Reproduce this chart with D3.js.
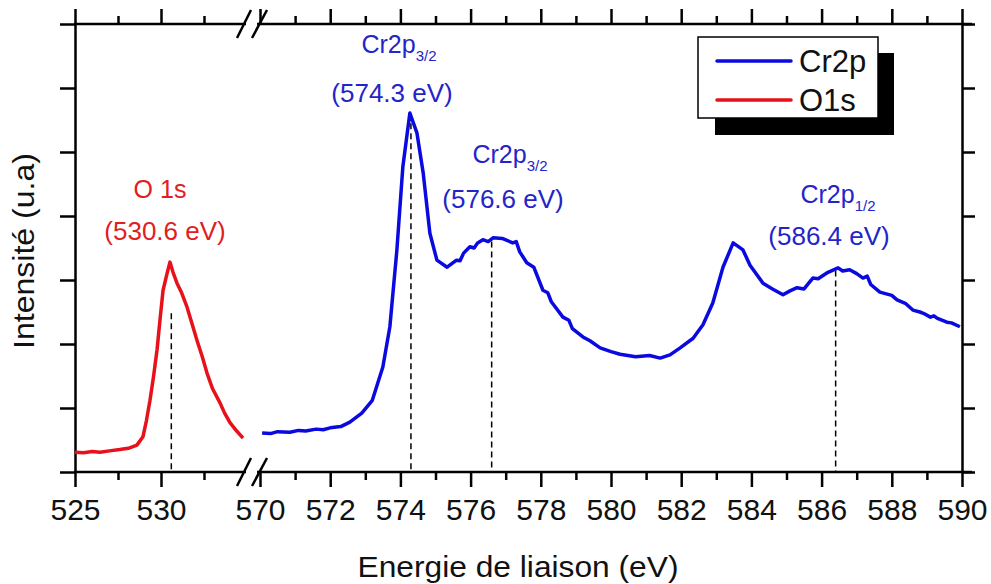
<!DOCTYPE html>
<html><head><meta charset="utf-8">
<script src="https://cdn.jsdelivr.net/npm/d3@7"></script>
<style>body{margin:0;background:#fff}svg{display:block;font-family:"Liberation Sans",Arial,sans-serif}</style>
</head><body><svg id="c" width="991" height="584"></svg>
<script>
// ---- data ----
const o1sEnergy = [525.0,525.5,526.0,526.45,527.0,527.6,528.1,528.6,528.95,529.15,529.36,529.57,529.77,529.95,530.12,530.35,530.52,530.7,530.93,531.2,531.51,531.8,532.09,532.4,532.67,533.0,533.43,533.7,534.01,534.4,534.77];
const o1sValue  = [0.31,0.30,0.32,0.31,0.33,0.35,0.37,0.42,0.55,0.80,1.12,1.50,1.91,2.40,2.84,3.10,3.28,3.12,2.95,2.80,2.58,2.32,2.06,1.80,1.55,1.30,1.08,0.92,0.77,0.64,0.53];
const cr2pEnergy = [570.06,570.3,570.5,570.85,571.1,571.3,571.6,571.8,572.0,572.3,572.56,572.9,573.2,573.5,573.7,573.9,574.07,574.27,574.47,574.65,574.84,575.04,575.33,575.6,575.7,575.8,575.98,576.1,576.2,576.35,576.5,576.64,576.9,577.2,577.3,577.4,577.6,577.8,578.06,578.2,578.3,578.63,578.8,578.9,579.2,579.4,579.69,580.0,580.26,580.7,581.1,581.4,581.68,581.97,582.34,582.62,582.9,583.19,583.48,583.76,583.96,584.33,584.6,584.9,585.1,585.3,585.5,585.75,585.9,586.15,586.47,586.6,586.8,587.0,587.18,587.3,587.4,587.66,588.0,588.15,588.4,588.6,588.8,588.9,589.1,589.2,589.3,589.57,589.7,589.94];
const cr2pValue  = [0.61,0.60,0.63,0.62,0.65,0.64,0.67,0.66,0.69,0.71,0.78,0.92,1.12,1.64,2.27,3.47,4.77,5.61,5.30,4.67,3.73,3.31,3.20,3.31,3.30,3.42,3.52,3.50,3.58,3.63,3.60,3.66,3.65,3.58,3.60,3.44,3.27,3.20,2.84,2.80,2.66,2.42,2.37,2.24,2.11,2.05,1.94,1.88,1.84,1.80,1.82,1.78,1.83,1.94,2.09,2.30,2.64,3.20,3.58,3.47,3.23,2.95,2.86,2.77,2.83,2.88,2.86,3.03,3.02,3.11,3.19,3.14,3.16,3.10,3.03,3.06,2.93,2.81,2.76,2.69,2.63,2.53,2.50,2.48,2.42,2.44,2.40,2.34,2.33,2.27];
const leftMajor = [525,530];
const leftMinor = [527.5,532.5];
const rightMajor = [570,572,574,576,578,580,582,584,586,588,590];
const rightMinor = [571,573,575,577,579,581,583,585,587,589];
const yTicks = [0,1,2,3,4,5,6,7];
const peaks = [
  {seg:"L", e:530.6, top:2.48, color:"#e0201f", name:"O 1s", sub:"", val:"(530.6 eV)"},
  {seg:"R", e:574.3, top:5.45, color:"#2424c8", name:"Cr2p", sub:"3/2", val:"(574.3 eV)"},
  {seg:"R", e:576.6, top:3.6,  color:"#2424c8", name:"Cr2p", sub:"3/2", val:"(576.6 eV)"},
  {seg:"R", e:586.4, top:3.15, color:"#2424c8", name:"Cr2p", sub:"1/2", val:"(586.4 eV)"}
];
const legendItems = [{name:"Cr2p", color:"#0a0ae0"},{name:"O1s", color:"#e8101a"}];

// ---- layout ----
const svg = d3.select("#c");
const xL = d3.scaleLinear().domain([525,535]).range([75,247]);
const xR = d3.scaleLinear().domain([570,590]).range([260,962]);
const y = d3.scaleLinear().domain([0,7]).range([472,24]);
const yTop = y(7), yBot = y(0);
const fmt = d3.format("d");

function axisSet(g, scale, major, minor, bottom){
  const mk = bottom ? d3.axisBottom : d3.axisTop;
  const a1 = mk(scale).tickValues(major).tickSize(15).tickSizeOuter(0).tickFormat(bottom?fmt:"");
  const a2 = mk(scale).tickValues(minor).tickSize(8).tickSizeOuter(0).tickFormat("");
  g.append("g").call(a1).call(s=>{s.select(".domain").remove();s.selectAll("line").attr("stroke","#000").attr("stroke-width",2.5);
     s.selectAll("text").attr("fill","#111").attr("font-size",30).attr("font-family","Liberation Sans, Arial, sans-serif").attr("y",27).attr("dy","0.71em");});
  g.append("g").call(a2).call(s=>{s.select(".domain").remove();s.selectAll("line").attr("stroke","#000").attr("stroke-width",2.5);});
}
const gb = svg.append("g").attr("transform",`translate(0,${yBot})`);
axisSet(gb, xL, leftMajor, leftMinor, true);
axisSet(gb, xR, rightMajor, rightMinor, true);
const gt = svg.append("g").attr("transform",`translate(0,${yTop})`);
axisSet(gt, xL, leftMajor, leftMinor, false);
axisSet(gt, xR, rightMajor, rightMinor, false);

[yTop,yBot].forEach(yy=>{
  svg.append("line").attr("x1",xL.range()[0]-1).attr("x2",246).attr("y1",yy).attr("y2",yy).attr("stroke","#000").attr("stroke-width",2.5);
  svg.append("line").attr("x1",257).attr("x2",xR.range()[1]+10).attr("y1",yy).attr("y2",yy).attr("stroke","#000").attr("stroke-width",2.5);
  [[237,251],[252,267]].forEach(([a,b])=>{
    svg.append("line").attr("x1",a).attr("y1",yy+14).attr("x2",b).attr("y2",yy-14).attr("stroke","#000").attr("stroke-width",2.5);
  });
});

const gl = svg.append("g").attr("transform",`translate(${xL.range()[0]},0)`)
  .call(d3.axisLeft(y).tickValues(yTicks).tickSize(15).tickSizeOuter(0).tickFormat(""));
gl.select(".domain").attr("stroke","#000").attr("stroke-width",2.5);
gl.selectAll("line").attr("stroke","#000").attr("stroke-width",2.5);
const gr = svg.append("g").attr("transform",`translate(${xR.range()[1]},0)`)
  .call(d3.axisRight(y).tickValues(yTicks).tickSize(13).tickSizeOuter(0).tickFormat(""));
gr.select(".domain").attr("stroke","#000").attr("stroke-width",2.5);
gr.selectAll("line").attr("stroke","#000").attr("stroke-width",2.5);

peaks.forEach(p=>{
  const sx = p.seg==="L"?xL:xR;
  svg.append("line").attr("x1",sx(p.e)).attr("x2",sx(p.e)).attr("y1",y(p.top)).attr("y2",yBot)
    .attr("stroke","#000").attr("stroke-width",1.5).attr("stroke-dasharray","6,4");
});

const lineL = d3.line().x((d,i)=>xL(o1sEnergy[i])).y(d=>y(d));
const lineR = d3.line().x((d,i)=>xR(cr2pEnergy[i])).y(d=>y(d));
svg.append("path").attr("d",lineL(o1sValue)).attr("fill","none").attr("stroke","#e8101a").attr("stroke-width",3.5).attr("stroke-linejoin","round");
svg.append("path").attr("d",lineR(cr2pValue)).attr("fill","none").attr("stroke","#0a0ae0").attr("stroke-width",3.5).attr("stroke-linejoin","round");

const annPos = [
  {cx:160, y1:198, cx2:165, y2:240},
  {cx:399, y1:53,  cx2:392, y2:102},
  {cx:510, y1:163, cx2:503, y2:208},
  {cx:838, y1:203, cx2:829, y2:245}
];
peaks.forEach((p,i)=>{
  const a = annPos[i];
  const t = svg.append("text").attr("x",a.cx).attr("y",a.y1).attr("text-anchor","middle").attr("fill",p.color).attr("font-size",25).text(p.name);
  if(p.sub){ t.append("tspan").attr("font-size",15).attr("dy",8).text(p.sub); }
  svg.append("text").attr("x",a.cx2).attr("y",a.y2).attr("text-anchor","middle").attr("fill",p.color).attr("font-size",26).text(p.val);
});

svg.append("rect").attr("x",715).attr("y",53).attr("width",179).attr("height",82).attr("fill","#000");
svg.append("rect").attr("x",698).attr("y",37).attr("width",180).attr("height",81).attr("fill","#fff").attr("stroke","#000").attr("stroke-width",1.5);
legendItems.forEach((d,i)=>{
  const yy = 61 + i*39;
  svg.append("line").attr("x1",717).attr("x2",791).attr("y1",yy).attr("y2",yy).attr("stroke",d.color).attr("stroke-width",3.5).attr("stroke-linecap","round");
  svg.append("text").attr("x",799).attr("y",yy+11).attr("font-size",31).attr("fill","#111").text(d.name);
});

svg.append("text").attr("x",518).attr("y",577).attr("text-anchor","middle").attr("font-size",30).attr("fill","#111")
  .attr("textLength",321).attr("lengthAdjust","spacingAndGlyphs").text("Energie de liaison (eV)");
svg.append("text").attr("transform","translate(34,251) rotate(-90)").attr("text-anchor","middle").attr("font-size",30).attr("fill","#111")
  .attr("textLength",196).attr("lengthAdjust","spacingAndGlyphs").text("Intensité (u.a)");
</script></body></html>
